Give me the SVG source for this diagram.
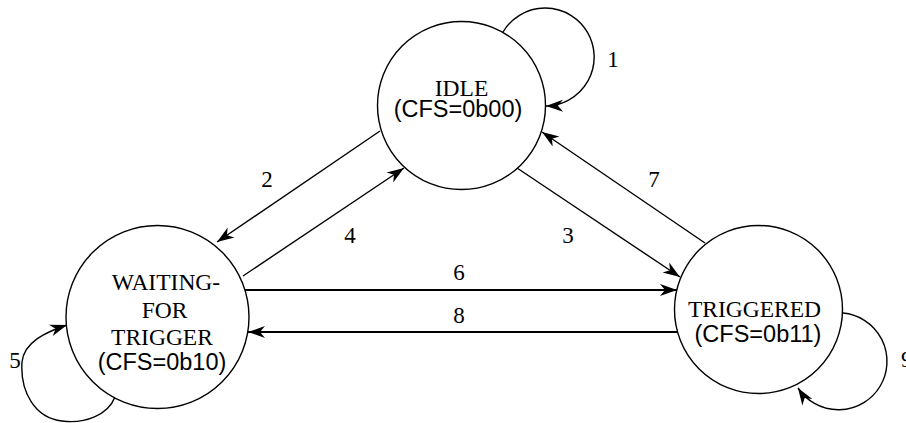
<svg xmlns="http://www.w3.org/2000/svg" width="906" height="423" viewBox="0 0 906 423">
<style>
.node{fill:#fff;stroke:#000;stroke-width:1.4}
.edge{fill:none;stroke:#000;stroke-width:1.4;marker-end:url(#ah)}
.thick{stroke-width:2.2}
.serif{font-family:"Liberation Serif","Times New Roman",serif;font-size:23.5px;fill:#000;text-anchor:middle}
.sans{font-family:"Liberation Sans",Arial,sans-serif;font-size:23.5px;fill:#000;text-anchor:middle}
.lbl{font-family:"Liberation Serif","Times New Roman",serif;font-size:23px;fill:#000;text-anchor:middle}
</style>
<defs>
<marker id="ah" markerUnits="userSpaceOnUse" markerWidth="20" markerHeight="14" viewBox="-18 -7 20 14" refX="0" refY="0" orient="auto">
<path d="M0,0 L-17,-6 L-12,0 L-17,6 Z" fill="#000"/>
</marker>
</defs>
<rect width="906" height="423" fill="#fff"/>
<g id="edges">
<path id="e1" class="edge" d="M503,32 A49,49 0 1,1 546,106"/>
<path id="e2" class="edge" d="M380,131 L217,242"/>
<path id="e3" class="edge" d="M517,168 L680,277"/>
<path id="e4" class="edge" d="M243,276 L404,168"/>
<path id="e5" class="edge" d="M115,397 C108,415 85,424 62,421 C35,418 20,392 22,362 C24,342 46,332 67,325"/>
<path id="e6" class="edge thick" d="M245,290 L677,290"/>
<path id="e7" class="edge" d="M705,243 L542,132"/>
<path id="e8" class="edge thick" d="M677,332 L248,332"/>
<path id="e9" class="edge" d="M843,313 A48.5,48.5 0 1,1 798,388"/>
<text class="lbl" x="613" y="67">1</text>
<text class="lbl" x="267" y="187">2</text>
<text class="lbl" x="568" y="243">3</text>
<text class="lbl" x="350" y="243">4</text>
<text class="lbl" x="15" y="368">5</text>
<text class="lbl" x="459" y="280">6</text>
<text class="lbl" x="654" y="187">7</text>
<text class="lbl" x="459" y="323">8</text>
<text class="lbl" x="901" y="367" style="text-anchor:start">9</text>
</g>
<g id="idle">
<circle class="node" cx="461.5" cy="105.5" r="84"/>
<text class="serif" x="461.5" y="96">IDLE</text>
<text class="sans" x="458" y="117">(CFS=0b00)</text>
</g>
<g id="waiting">
<circle class="node" cx="157.5" cy="317" r="91.5"/>
<text class="serif" x="166" y="290">WAITING-</text>
<text class="serif" x="164.5" y="318">FOR</text>
<text class="serif" x="162" y="345">TRIGGER</text>
<text class="sans" x="162" y="370">(CFS=0b10)</text>
</g>
<g id="triggered">
<circle class="node" cx="758.5" cy="309.5" r="84"/>
<text class="serif" x="754.5" y="317">TRIGGERED</text>
<text class="sans" x="758" y="342">(CFS=0b11)</text>
</g>
</svg>
